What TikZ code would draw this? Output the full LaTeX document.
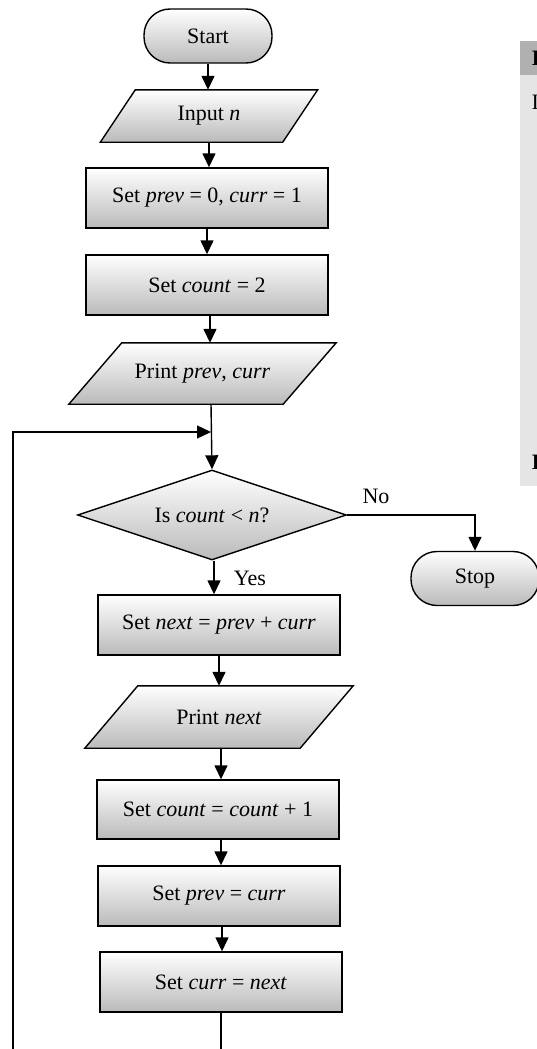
\documentclass[tikz,border=0pt]{standalone}
\usepackage{fontspec}
\setmainfont{Liberation Serif}
\usetikzlibrary{shapes.geometric,arrows.meta,backgrounds,calc}

\tikzset{
  txt/.style={font=\fontsize{22}{26}\selectfont, inner sep=0pt, align=center},
  shadefill/.style={line width=1.4pt, draw=black, top color=white, bottom color=black!27},
  process/.style={txt, shadefill, rectangle, minimum width=242pt, minimum height=60pt},
  terminal/.style={txt, shadefill, rectangle, rounded corners=26pt, minimum width=128pt, minimum height=54pt},
  decision/.style={txt, shadefill, diamond, aspect=3, minimum width=269pt, minimum height=90pt},
  iobox/.style 2 args={txt, rectangle, minimum width=#1, minimum height=#2},
  link/.style={line width=1.4pt},
  arr/.style={line width=1.4pt, -{Triangle[length=14pt,width=13pt]}},
}

% parallelogram drawn behind an io node: node name, horizontal slant
\newcommand\ioshape[2]{%
  \shadedraw[shadefill]
    ([xshift=-#2/2]#1.south west) -- ([xshift=-#2/2]#1.south east) --
    ([xshift=#2/2]#1.north east) -- ([xshift=#2/2]#1.north west) -- cycle;}

\begin{document}
\begin{tikzpicture}[x=1pt, y=-1pt]
\useasboundingbox (0,0) rectangle (536,1049);

% side panel (partly outside the page)
\fill[black!10] (520,41) rectangle (560,486);
\fill[black!31] (520,41) rectangle (560,75);
\node[txt, anchor=west] (panelhead) at (531.5,58) {\textbf{I}};
\node[txt, anchor=west] (panelfirst) at (531.5,102) {I};
\node[txt, anchor=west] (panellast) at (531.5,462) {\textbf{I}};

% flowchart nodes
\node[terminal] (start) at (208,36) {Start};
\node[iobox={182pt}{52pt}] (input) at (209,116) {Input \textit{n}};
\node[process] (initpc) at (207,198) {Set \textit{prev} = 0, \textit{curr} = 1};
\node[process] (initcount) at (207,285) {Set \textit{count} = 2};
\node[iobox={214pt}{61pt}] (printpc) at (202.5,373.5) {Print \textit{prev}, \textit{curr}};
\node[decision] (test) at (212,515) {Is \textit{count} < \textit{n}?};
\node[terminal] (stop) at (475,578.5) {Stop};
\node[process] (setnext) at (219,625) {Set \textit{next} = \textit{prev} + \textit{curr}};
\node[iobox={215pt}{62pt}] (printnext) at (219,717) {Print \textit{next}};
\node[process, minimum height=59pt] (inc) at (218,809.5) {Set \textit{count} = \textit{count} + 1};
\node[process] (shiftprev) at (219,896) {Set \textit{prev} = \textit{curr}};
\node[process] (shiftcurr) at (221,982) {Set \textit{curr} = \textit{next}};

\node[txt] (nolabel) at (376,496) {No};
\node[txt] (yeslabel) at (250,578) {Yes};

\begin{scope}[on background layer]
  \ioshape{input}{35pt}
  \ioshape{printpc}{53pt}
  \ioshape{printnext}{53pt}
\end{scope}

% connectors
\coordinate (join) at (211,432);
\coordinate (corner) at (13,1075);

\draw[arr] (start.south) -- (start.south |- input.north);
\draw[arr] (input.south) -- (input.south |- initpc.north);
\draw[arr] (initpc.south) -- (initpc.south |- initcount.north);
\draw[arr] ([xshift=3pt]initcount.south) -- ([xshift=3pt]initcount.south |- printpc.north);
\draw[arr] (printpc.south -| join) -- (test.north);
\draw[arr] (test.east) -| (stop.north);
\draw[arr] ([xshift=2pt]test.south) -- ([xshift=2pt]test.south |- setnext.north);
\draw[arr] (setnext.south) -- (setnext.south |- printnext.north);
\draw[arr] ([xshift=2pt]printnext.south) -- ([xshift=2pt]printnext.south |- inc.north);
\draw[arr] ([xshift=3pt]inc.south) -- ([xshift=3pt]inc.south |- shiftprev.north);
\draw[arr] ([xshift=3pt]shiftprev.south) -- ([xshift=3pt]shiftprev.south |- shiftcurr.north);
\draw[arr] (shiftcurr.south) -- (shiftcurr.south |- corner) -- (corner) -- (corner |- join) -- (join);
\end{tikzpicture}
\end{document}
